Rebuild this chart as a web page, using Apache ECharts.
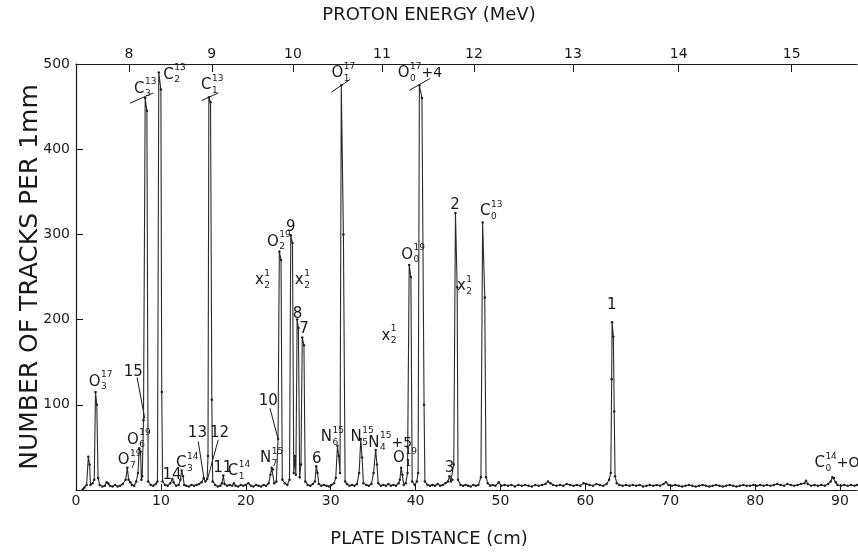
<!DOCTYPE html>
<html>
<head>
<meta charset="utf-8">
<script src="https://cdn.jsdelivr.net/npm/echarts@6/dist/echarts.min.js"></script>
<style>
  html, body { margin: 0; padding: 0; background: #fff; }
  #chart { width: 858px; height: 555px; }
</style>
</head>
<body>
<div id="chart"></div>
<script>
// spectrum: [plate distance (cm), tracks per 1mm]
var spectrum = [
  [0.8,1],[1.0,3],[1.25,6],[1.45,39],[1.6,30],[1.7,6],[1.95,8],[2.15,12],[2.3,115],[2.45,100],[2.6,14],[2.8,6],
  [3.1,4],[3.4,5],[3.6,9],[3.8,8],[4.0,5],[4.3,4],[4.6,6],[4.9,4],[5.2,5],[5.5,7],[5.85,12],[6.05,26],[6.2,12],
  [6.4,9],[6.6,6],[6.85,5],[7.1,10],[7.3,20],[7.45,49],[7.6,45],[7.7,12],[7.8,16],[7.95,82],[8.15,460],[8.35,445],
  [8.5,10],[8.8,6],[9.1,5],[9.4,7],[9.6,10],[9.75,490],[10.0,470],[10.1,115],[10.2,10],[10.5,6],[10.8,5],[11.1,8],
  [11.35,13],[11.5,9],[11.8,5],[12.1,6],[12.3,12],[12.45,23],[12.6,16],[12.75,6],[13.0,5],[13.3,4],[13.6,6],
  [13.9,5],[14.2,6],[14.5,7],[14.8,9],[15.05,14],[15.25,10],[15.45,13],[15.55,40],[15.65,461],[15.85,455],
  [16.0,106],[16.1,10],[16.4,6],[16.7,4],[17.0,5],[17.2,8],[17.35,17],[17.5,7],[17.8,5],[18.1,6],[18.4,5],
  [18.6,8],[18.8,5],[19.1,4],[19.4,6],[19.7,5],[20.0,6],[20.3,8],[20.6,5],[20.9,4],[21.2,6],[21.5,5],[21.8,4],
  [22.1,6],[22.4,5],[22.7,8],[22.9,18],[23.05,26],[23.2,24],[23.35,8],[23.6,10],[23.8,60],[23.95,280],[24.15,270],
  [24.3,12],[24.6,8],[24.9,6],[25.15,12],[25.3,299],[25.5,290],[25.65,20],[25.8,40],[25.9,18],[26.05,200],
  [26.2,190],[26.35,15],[26.5,30],[26.65,179],[26.85,170],[27.0,10],[27.3,6],[27.6,5],[27.9,7],[28.15,10],
  [28.3,28],[28.45,20],[28.6,7],[28.9,5],[29.2,6],[29.5,5],[29.8,4],[30.1,6],[30.4,8],[30.6,14],[30.8,52],
  [30.95,40],[31.1,20],[31.25,475],[31.5,300],[31.7,10],[31.9,7],[32.2,5],[32.5,6],[32.8,5],[33.1,7],[33.35,20],
  [33.55,60],[33.7,38],[33.85,8],[34.2,6],[34.5,5],[34.8,7],[35.05,20],[35.3,47],[35.45,30],[35.6,8],[35.9,5],
  [36.2,6],[36.5,5],[36.8,7],[37.1,5],[37.4,6],[37.7,5],[38.0,8],[38.15,12],[38.3,26],[38.45,18],[38.6,6],
  [38.85,8],[39.05,20],[39.25,264],[39.45,250],[39.6,10],[39.9,6],[40.15,10],[40.3,20],[40.45,475],[40.75,460],
  [41.0,100],[41.1,10],[41.4,6],[41.7,5],[42.0,6],[42.3,5],[42.6,7],[42.9,5],[43.2,6],[43.5,8],[43.8,10],
  [44.0,16],[44.15,10],[44.35,12],[44.5,30],[44.7,325],[44.9,238],[45.0,12],[45.3,6],[45.6,5],[45.9,6],[46.2,5],
  [46.5,4],[46.8,6],[47.1,5],[47.4,6],[47.7,15],[47.9,314],[48.15,226],[48.3,15],[48.5,8],[48.8,5],[49.1,6],
  [49.4,5],[49.8,9],[50.1,5],[50.5,6],[50.9,5],[51.3,6],[51.7,4],[52.1,6],[52.5,5],[52.9,6],[53.3,5],[53.7,4],
  [54.1,6],[54.5,5],[54.9,6],[55.3,7],[55.6,10],[55.9,8],[56.2,6],[56.6,5],[57.0,6],[57.4,5],[57.8,7],[58.2,6],
  [58.6,5],[59.0,6],[59.4,5],[59.8,8],[60.1,7],[60.5,6],[60.9,5],[61.3,7],[61.7,6],[62.1,5],[62.5,7],[62.8,12],
  [63.0,20],[63.1,130],[63.15,197],[63.3,180],[63.4,92],[63.5,16],[63.7,8],[64.0,6],[64.4,5],[64.8,6],[65.2,5],
  [65.6,6],[66.0,5],[66.4,6],[66.8,4],[67.2,5],[67.6,6],[68.0,5],[68.4,6],[68.8,5],[69.2,7],[69.5,9],[69.8,6],
  [70.2,5],[70.6,6],[71.0,5],[71.4,4],[71.8,5],[72.2,6],[72.6,5],[73.0,4],[73.4,5],[73.8,6],[74.2,5],[74.6,4],
  [75.0,5],[75.4,6],[75.8,5],[76.2,4],[76.6,5],[77.0,6],[77.4,5],[77.8,4],[78.2,5],[78.6,6],[79.0,5],[79.4,5],
  [79.8,6],[80.2,5],[80.6,6],[81.0,5],[81.4,6],[81.8,5],[82.2,6],[82.6,7],[83.0,6],[83.4,5],[83.8,7],[84.2,6],
  [84.6,5],[85.0,6],[85.4,7],[85.8,8],[86.0,11],[86.2,7],[86.6,5],[87.0,6],[87.4,5],[87.8,6],[88.2,5],[88.6,7],
  [88.9,10],[89.1,15],[89.3,14],[89.5,9],[89.7,6],[90.1,5],[90.5,6],[90.9,5],[91.3,6],[91.7,5],[92.0,6]
];

// proton energy scale on top (MeV) and where it falls on the plate (cm)
var energyMeV = [8, 9, 10, 11, 12, 13, 14, 15];
var energyAtCm = [6.24, 16.0, 25.56, 36.04, 46.88, 58.54, 71.0, 84.3];

// peak labels: text, superscript, subscript, trailing text, anchor (cm, tracks)
var peakText = ['O','15','O','O','C','C','C','14','C','13','12','11','C','N','10','O','9','x','x','8','7','6',
                'N','O','N','N','O','x','O','O','3','2','x','C','1','C'];
var peakSup  = ['17','','19','19','13','13','13','','14','','','','14','15','','19','','1','1','','','',
                '15','17','15','15','19','1','19','17','','','1','13','','14'];
var peakSub  = ['3','','7','6','3','2','1','','3','','','','1','7','','2','','2','2','','','',
                '6','1','5','4','1','2','0','0','','','2','0','','0'];
var peakTail = ['','','','','','','','','','','','','','','','','','','','','','',
                '','','','+5','','','','+4','','','','','','+O'];
var peakAtCm = [2.2,6.75,5.6,6.7,7.45,10.9,15.35,11.3,12.4,14.3,16.9,17.3,18.5,22.35,22.65,23.2,25.3,21.6,26.3,26.1,26.85,28.35,
                29.5,30.8,33.0,35.1,38.05,36.5,39.0,38.6,44.0,44.65,45.4,48.2,63.1,87.6];
var peakAtTracks = [127,138,35,59,471,487,475,18,31,67,67,26,22,37,104,291,309,246,246,206,189,36,
                    62,489,62,55,37,181,276,489,26,334,239,327,217,31];

// pointer lines to shoulders, and the break marks on off-scale peaks: [x1, y1, x2, y2]
var pointerLines = [[7.2,132,8.1,84],[14.4,57,15.08,13],[16.76,59,15.47,12],[22.85,96,23.83,59]];
var breakMarks = [[6.36,454,9.1,466],[14.8,457,16.76,466],[30.1,467,32.3,482],[39.26,469,41.7,483]];

var ink = '#1a1a1a';
var fam = '"DejaVu Sans", sans-serif';
var mainFont = '15px ' + fam;
var tailFont = '14px ' + fam;
var smallFont = '9px ' + fam;

var ctx = document.createElement('canvas').getContext('2d');
function textWidth(s, f) {
    ctx.font = f;
    return ctx.measureText(s).width;
}

function renderLabel(params, api) {
    var i = params.dataIndex;
    var p = api.coord([peakAtCm[i], peakAtTracks[i]]);
    var w = textWidth(peakText[i], mainFont);
    var right = p[0] + w / 2 + 0.5;
    var kids = [{
        type: 'text', x: p[0], y: p[1],
        style: { text: peakText[i], font: mainFont, fill: ink, align: 'center', verticalAlign: 'middle' }
    }];
    var sw = 0;
    if (peakSup[i]) {
        kids.push({ type: 'text', x: right, y: p[1] - 7,
            style: { text: peakSup[i], font: smallFont, fill: ink, align: 'left', verticalAlign: 'middle' } });
        sw = Math.max(sw, textWidth(peakSup[i], smallFont));
    }
    if (peakSub[i]) {
        kids.push({ type: 'text', x: right, y: p[1] + 5,
            style: { text: peakSub[i], font: smallFont, fill: ink, align: 'left', verticalAlign: 'middle' } });
        sw = Math.max(sw, textWidth(peakSub[i], smallFont));
    }
    if (peakTail[i]) {
        kids.push({ type: 'text', x: right + sw, y: p[1],
            style: { text: peakTail[i], font: tailFont, fill: ink, align: 'left', verticalAlign: 'middle' } });
    }
    return { type: 'group', children: kids };
}

function segmentSeries(list) {
    return {
        type: 'custom',
        silent: true,
        data: list.map(function (l) { return [l[0], l[1]]; }),
        renderItem: function (params, api) {
            var l = list[params.dataIndex];
            var a = api.coord([l[0], l[1]]);
            var b = api.coord([l[2], l[3]]);
            return { type: 'line', shape: { x1: a[0], y1: a[1], x2: b[0], y2: b[1] },
                     style: { stroke: ink, lineWidth: 1 } };
        }
    };
}

var chart = echarts.init(document.getElementById('chart'));
var option = {
    animation: false,
    backgroundColor: '#fff',
    title: [{
        text: 'PROTON ENERGY (MeV)', left: 'center', top: 6, padding: 0,
        textStyle: { fontFamily: fam, fontSize: 18, fontWeight: 'normal', color: ink }
    }, {
        text: 'PLATE DISTANCE (cm)', left: 'center', bottom: 7, padding: 0,
        textStyle: { fontFamily: fam, fontSize: 18, fontWeight: 'normal', color: ink }
    }],
    grid: { left: 76, right: 1, top: 64, bottom: 65 },
    xAxis: [{
        type: 'value', min: 0, max: 92, interval: 10,
        axisLine: { show: true, onZero: false, lineStyle: { color: ink, width: 1.2 } },
        axisTick: { inside: true, length: 6, lineStyle: { color: ink } },
        axisLabel: { color: ink, fontFamily: fam, fontSize: 14, margin: 4, showMaxLabel: false },
        splitLine: { show: false }
    }, {
        type: 'value', position: 'top', min: 0, max: 92,
        axisLine: { show: true, onZero: false, lineStyle: { color: ink, width: 1.2 } },
        axisTick: { show: true, inside: true, length: 8, customValues: energyAtCm, lineStyle: { color: ink } },
        axisLabel: {
            show: true, customValues: energyAtCm, color: ink, fontFamily: fam, fontSize: 14, margin: 3,
            formatter: function (v) {
                var k = energyAtCm.indexOf(v);
                return k < 0 ? '' : String(energyMeV[k]);
            }
        },
        splitLine: { show: false }
    }],
    yAxis: {
        type: 'value', min: 0, max: 500, interval: 100,
        name: 'NUMBER OF TRACKS PER 1mm', nameLocation: 'middle', nameGap: 33, nameRotate: 90,
        nameMoveOverlap: false,
        nameTextStyle: { color: ink, fontFamily: fam, fontSize: 25 },
        axisLine: { show: true, lineStyle: { color: ink, width: 1.2 } },
        axisTick: { show: true, inside: true, length: 7, lineStyle: { color: ink } },
        axisLabel: { color: ink, fontFamily: fam, fontSize: 14, margin: 6, showMinLabel: false },
        splitLine: { show: false }
    },
    series: [{
        type: 'line',
        data: spectrum,
        showSymbol: true,
        symbol: 'circle',
        symbolSize: 2.5,
        itemStyle: { color: '#222' },
        lineStyle: { color: '#2a2a2a', width: 1.1 },
        silent: true
    }, {
        type: 'custom',
        silent: true,
        data: peakAtCm.map(function (c, i) { return [c, peakAtTracks[i]]; }),
        renderItem: renderLabel,
        z: 5
    }, segmentSeries(pointerLines), segmentSeries(breakMarks)]
};
chart.setOption(option);
window.addEventListener('resize', function () {
    chart.resize();
});
</script>
</body>
</html>
